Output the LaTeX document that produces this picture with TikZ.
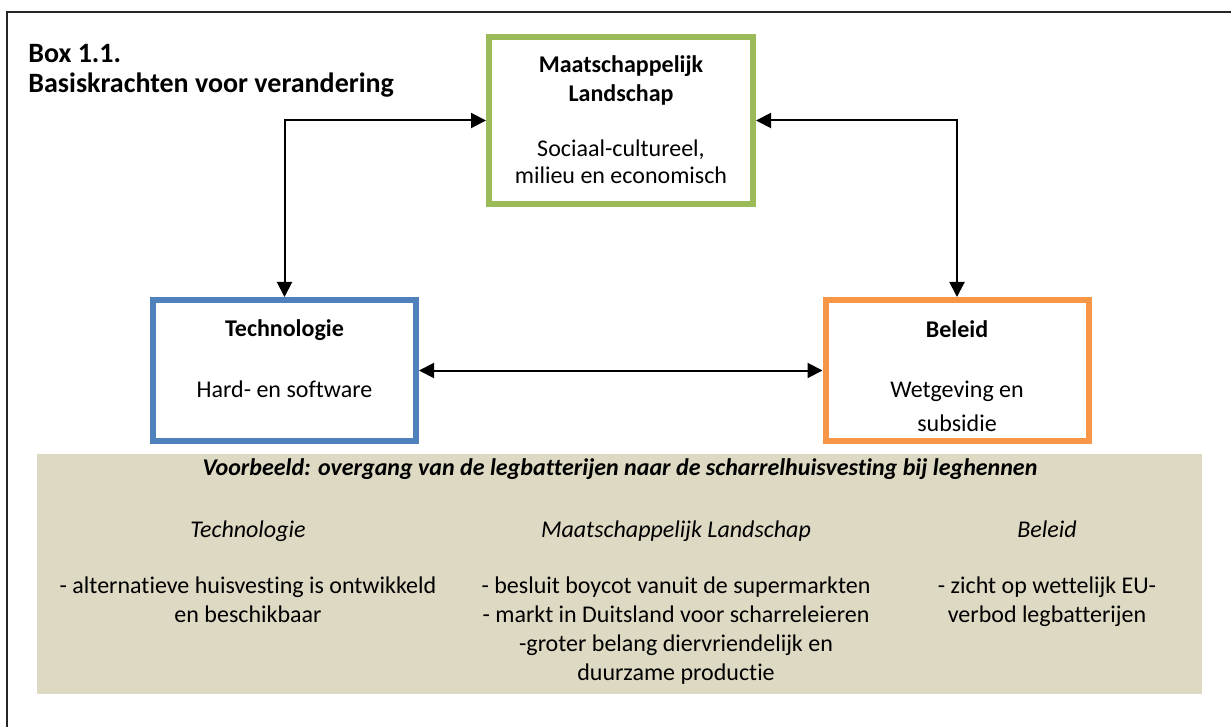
\documentclass[tikz,border=0pt]{standalone}
\usepackage{fontspec}
\setmainfont{Carlito}[Ligatures=NoCommon]
\usetikzlibrary{arrows.meta}
\definecolor{boxgreen}{HTML}{9BBB59}
\definecolor{boxblue}{HTML}{4F81BD}
\definecolor{boxorange}{HTML}{F79646}
\definecolor{tanfill}{HTML}{DDD9C3}
\begin{document}
\begin{tikzpicture}[x=0.5pt,y=-0.5pt,
  forcebox/.style={draw, line width=3pt, fill=white, inner sep=0pt, outer sep=1.5pt, minimum width=131.5pt, minimum height=70.5pt},
  link/.style={line width=1pt, {Triangle[length=7.5pt,width=7.5pt]}-{Triangle[length=7.5pt,width=7.5pt]}},
  titletext/.style={anchor=base west, inner sep=0pt, font=\fontsize{14}{17}\selectfont\bfseries},
  boxhead/.style={anchor=base, inner sep=0pt, font=\fontsize{12}{14}\selectfont\bfseries},
  boxline/.style={anchor=base, inner sep=0pt, font=\fontsize{12}{14}\selectfont},
  exhead/.style={anchor=base, inner sep=0pt, font=\fontsize{12}{14}\selectfont\bfseries\itshape},
  colhead/.style={anchor=base, inner sep=0pt, font=\fontsize{12}{14}\selectfont\itshape},
  colline/.style={anchor=base, inner sep=0pt, font=\fontsize{12}{14}\selectfont}]
\useasboundingbox (0,0) rectangle (1231,727);
\clip (0,0) rectangle (1231,727);
\fill[white] (0,0) rectangle (1231,727);
% outer frame (continues beyond the right and bottom edges)
\draw[line width=0.75pt, black!85] (7,12) rectangle (1250,750);

% title
\node[titletext] (t1) at (28,63) {Box 1.1.};
\node[titletext] (t2) at (28,93) {Basiskrachten voor verandering};

% boxes
\node[forcebox, draw=boxgreen, minimum width=132pt, minimum height=83.5pt] (land) at (621,120.5) {};
\node[forcebox, draw=boxblue] (tech) at (284.5,370.5) {};
\node[forcebox, draw=boxorange] (pol) at (957,370.5) {};

% box texts
\node[boxhead] (l1) at (621,73) {Maatschappelijk};
\node[boxhead] (l2) at (621,102) {Landschap};
\node[boxline] (l3) at (621,157) {Sociaal-cultureel,};
\node[boxline] (l4) at (621,184) {milieu en economisch};

\node[boxhead] (te1) at (284.5,336) {Technologie};
\node[boxline] (te2) at (284.5,397) {Hard- en software};

\node[boxhead] (p1) at (957,337) {Beleid};
\node[boxline] (p2) at (957,397) {Wetgeving en};
\node[boxline] (p3) at (957,431) {subsidie};

% connectors
\draw[link] (tech.north) |- (land.west);
\draw[link] (land.east) -| (pol.north);
\draw[link] (tech.east) -- (pol.west);

% example panel
\node[fill=tanfill, inner sep=0pt, outer sep=0pt, minimum width=582.5pt, minimum height=120pt] (ex) at (619.5,574) {};
\node[exhead] (e0) at (620,475) {Voorbeeld: overgang van de legbatterijen naar de scharrelhuisvesting bij leghennen};

\node[colhead] (h1) at (248,537) {Technologie};
\node[colhead] (h2) at (676,537) {Maatschappelijk Landschap};
\node[colhead] (h3) at (1047,537) {Beleid};

\node[colline] (a1) at (248,593) {- alternatieve huisvesting is ontwikkeld};
\node[colline] (a2) at (248,622) {en beschikbaar};

\node[colline] (b1) at (676,593) {- besluit boycot vanuit de supermarkten};
\node[colline] (b2) at (676,622) {- markt in Duitsland voor scharreleieren};
\node[colline] (b3) at (676,651) {-groter belang diervriendelijk en};
\node[colline] (b4) at (676,680) {duurzame productie};

\node[colline] (c1) at (1047,593) {- zicht op wettelijk EU-};
\node[colline] (c2) at (1047,622) {verbod legbatterijen};
\end{tikzpicture}
\end{document}
